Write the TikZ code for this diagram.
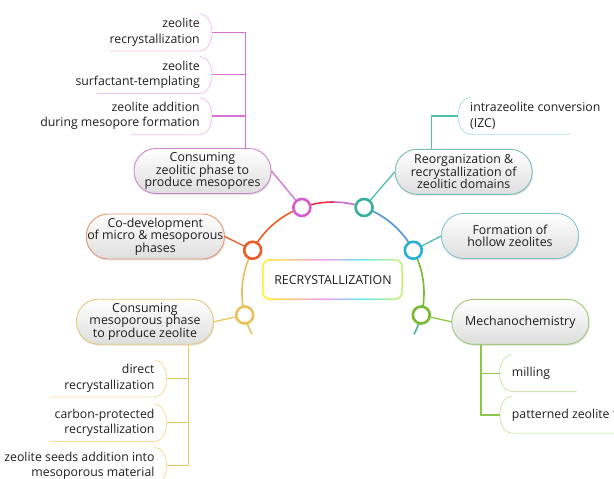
\documentclass[tikz,border=0pt]{standalone}
\usepackage{fontspec}
\setmainfont{Open Sans}
\usetikzlibrary{shadows}

\definecolor{ink}{RGB}{30,30,30}
% hub rings, links, leaf lines and topic borders
\definecolor{magHub}{RGB}{214,92,212}   \definecolor{magLink}{RGB}{216,112,214}
\definecolor{magLeaf}{RGB}{240,192,238} \definecolor{magEdge}{RGB}{205,135,205}
\definecolor{tealHub}{RGB}{56,176,160}  \definecolor{tealLink}{RGB}{80,190,172}
\definecolor{tealLeaf}{RGB}{170,225,218} \definecolor{tealEdge}{RGB}{120,190,182}
\definecolor{blueHub}{RGB}{40,175,215}  \definecolor{blueEdge}{RGB}{130,195,210}
\definecolor{grnHub}{RGB}{120,185,50}   \definecolor{grnLink}{RGB}{140,200,70}
\definecolor{grnLeaf}{RGB}{200,230,170} \definecolor{grnEdge}{RGB}{160,200,120}
\definecolor{orgHub}{RGB}{232,95,40}    \definecolor{orgEdge}{RGB}{230,150,110}
\definecolor{ylwHub}{RGB}{232,195,90}   \definecolor{ylwLink}{RGB}{235,200,95}
\definecolor{ylwLeaf}{RGB}{245,222,150} \definecolor{ylwEdge}{RGB}{230,200,120}
% arc pieces
\definecolor{arcA}{RGB}{235,185,90}  \definecolor{arcB}{RGB}{238,92,40}
\definecolor{arcC}{RGB}{235,45,70}   \definecolor{arcD}{RGB}{200,105,200}
\definecolor{arcE}{RGB}{80,150,215}  \definecolor{arcF}{RGB}{70,180,140}
% border of the centre box
\definecolor{rbYellow}{RGB}{255,240,40} \definecolor{rbPink}{RGB}{245,160,240}
\definecolor{rbCyan}{RGB}{110,235,245}  \definecolor{rbLime}{RGB}{205,240,110}
\pgfdeclarehorizontalshading{rainbow}{100bp}{color(0bp)=(rbYellow); color(25bp)=(rbYellow); color(47bp)=(rbPink); color(60bp)=(rbCyan); color(75bp)=(rbLime); color(100bp)=(rbLime)}

\newcommand{\topicfont}{\fontsize{12.4}{12.5}\selectfont}
\newcommand{\leaffont}{\fontsize{12.3}{15.6}\selectfont}

\tikzset{
  topic/.style={draw=#1, line width=0.9pt, rounded corners=22pt, minimum width=137pt,
    minimum height=45pt, inner sep=1pt, align=center, font=\topicfont, text=ink,
    top color=white, bottom color=black!13,
    drop shadow={shadow xshift=0.8pt, shadow yshift=-1.4pt, opacity=0.25}},
  hub/.style={circle, draw=#1, line width=2.6pt, fill=white, minimum size=17pt, inner sep=0pt},
  link/.style={draw=#1, line width=1.3pt},
  arcline/.style={draw=#1, line width=1.6pt},
  leafW/.style={anchor=east, align=right, font=\leaffont, text=ink, inner sep=0pt, minimum height=37pt},
  leafE/.style={anchor=west, align=left, font=\leaffont, text=ink, inner sep=0pt, minimum height=37pt},
  leafline/.style={draw=#1, line width=0.8pt},
}

\begin{document}
\begin{tikzpicture}[x=1pt,y=-1pt]
\useasboundingbox (0,0) rectangle (614,479);
\clip (0,0) rectangle (614,479);

% the ring
\coordinate (ctr) at (333,293);
\foreach \a/\b/\c in {-207/-194/ylwHub,-194/-152/arcA,-152/-110/arcB,-110/-90/arcC,-90/-70/arcD,-70/-28/arcE,-28/14/grnHub,14/27/arcF}
  \draw[arcline=\c] ([shift={(\a:91)}]ctr) arc[start angle=\a, end angle=\b, radius=91];

% the centre box
\shade[shading=rainbow, even odd rule] [rounded corners=8pt] (262,259) rectangle (403,300)
  [rounded corners=6.6pt] (263.6,260.6) rectangle (401.4,298.4);
\node[font=\fontsize{12.4}{12}\selectfont, text=ink] (core) at (333,280) {RECRYSTALLIZATION};

% topics
\node[topic=magEdge] (zeoPhase) at (202.5,171) {Consuming\\zeolitic phase to\\produce mesopores};
\node[topic=tealEdge] (reorg) at (463.7,171.8) {Reorganization \&\\recrystallization of\\zeolitic domains};
\node[topic=blueEdge] (hollow) at (510,236) {Formation of\\hollow zeolites};
\node[topic=grnEdge] (mecha) at (520.3,321.8) {Mechanochemistry};
\node[topic=orgEdge] (codev) at (155.3,236.5) {Co-development\\of micro \& mesoporous\\phases};
\node[topic=ylwEdge] (mesoPhase) at (145,321.7) {Consuming\\mesoporous phase\\to produce zeolite};

% hubs on the ring
\node[hub=magHub] (hubMag) at ([shift={(-110:91)}]ctr) {};
\node[hub=tealHub] (hubTeal) at ([shift={(-70:91)}]ctr) {};
\node[hub=blueHub] (hubBlue) at ([shift={(-28:91)}]ctr) {};
\node[hub=grnHub] (hubGrn) at ([shift={(14:91)}]ctr) {};
\node[hub=orgHub] (hubOrg) at ([shift={(-152:91)}]ctr) {};
\node[hub=ylwHub] (hubYlw) at ([shift={(-194:91)}]ctr) {};

\draw[link=magLink] (hubMag) -- (zeoPhase.east);
\draw[link=tealLink] (hubTeal) -- (reorg.west);
\draw[link=tealLink] (hubBlue) -- (hollow.west);
\draw[link=grnLink] (hubGrn) -- (mecha.west);
\draw[link=orgHub] (hubOrg) -- (codev.east);
\draw[link=ylwLink] (hubYlw) -- (mesoPhase.east);

% leaves of the magenta topic
\node[leafW] (zRecry) at (200,32.3) {zeolite\\recrystallization};
\node[leafW] (zSurf) at (200,74.7) {zeolite\\surfactant-templating};
\node[leafW] (zAdd) at (200,116) {zeolite addition\\during mesopore formation};
\draw[leafline=magLeaf] ([xshift=-90pt]zRecry.south east) -- (zRecry.south east) arc[start angle=90, end angle=-90, x radius=12, y radius=18.5];
\draw[leafline=magLeaf] ([xshift=-103pt]zSurf.south east) -- (zSurf.south east) arc[start angle=90, end angle=-90, x radius=12, y radius=18.5];
\draw[leafline=magLeaf] ([xshift=-70pt]zAdd.south east) -- (zAdd.south east) arc[start angle=90, end angle=-90, x radius=12, y radius=18.5];
\coordinate (jMag) at (245.7,0);
\draw[link=magLink] (zeoPhase.north -| jMag) -- (jMag |- zRecry.east) -- ([xshift=12pt]zRecry.east);
\draw[link=magLink] (jMag |- zSurf.east) -- ([xshift=12pt]zSurf.east);
\draw[link=magLink] (jMag |- zAdd.east) -- ([xshift=12pt]zAdd.east);

% leaf of the teal topic
\node[leafE] (izc) at (470,116) {intrazeolite conversion\\(IZC)};
\draw[leafline=tealLeaf] (izc.north west) arc[start angle=-90, end angle=-270, x radius=12, y radius=18.5] -- ++(100,0);
\coordinate (jTeal) at (431.7,0);
\draw[link=tealLink] (reorg.north -| jTeal) -- (jTeal |- izc.west) -- ([xshift=-12pt]izc.west);

% leaves of the green topic
\node[leafE] (milling) at (511.7,373.3) {milling};
\node[leafE] (films) at (511.7,415) {patterned zeolite films};
\draw[leafline=grnLeaf] (milling.north west) arc[start angle=-90, end angle=-270, x radius=12, y radius=18.5] -- ++(65,0);
\draw[leafline=grnLeaf] (films.north west) arc[start angle=-90, end angle=-270, x radius=12, y radius=18.5] -- ++(120,0);
\coordinate (jGrn) at (481,0);
\draw[link=grnLink] (mecha.south -| jGrn) -- (jGrn |- films.west) -- ([xshift=-12pt]films.west);
\draw[link=grnLink] (jGrn |- milling.west) -- ([xshift=-12pt]milling.west);

% leaves of the yellow topic
\node[leafW] (direct) at (154.7,378.3) {direct\\recrystallization};
\node[leafW] (carbon) at (154.7,422.7) {carbon-protected\\recrystallization};
\node[leafW] (seeds) at (154.7,465.7) {zeolite seeds addition into\\mesoporous material};
\draw[leafline=ylwLeaf] ([xshift=-105pt]direct.south east) -- (direct.south east) arc[start angle=90, end angle=-90, x radius=12, y radius=18.5];
\draw[leafline=ylwLeaf] ([xshift=-105pt]carbon.south east) -- (carbon.south east) arc[start angle=90, end angle=-90, x radius=12, y radius=18.5];
\draw[leafline=ylwLeaf] ([xshift=-150pt]seeds.south east) -- (seeds.south east) arc[start angle=90, end angle=-90, x radius=12, y radius=18.5];
\coordinate (jYlw) at (188.3,0);
\draw[link=ylwLink] (mesoPhase.south -| jYlw) -- (jYlw |- seeds.east) -- ([xshift=12pt]seeds.east);
\draw[link=ylwLink] (jYlw |- direct.east) -- ([xshift=12pt]direct.east);
\draw[link=ylwLink] (jYlw |- carbon.east) -- ([xshift=12pt]carbon.east);
\end{tikzpicture}
\end{document}
